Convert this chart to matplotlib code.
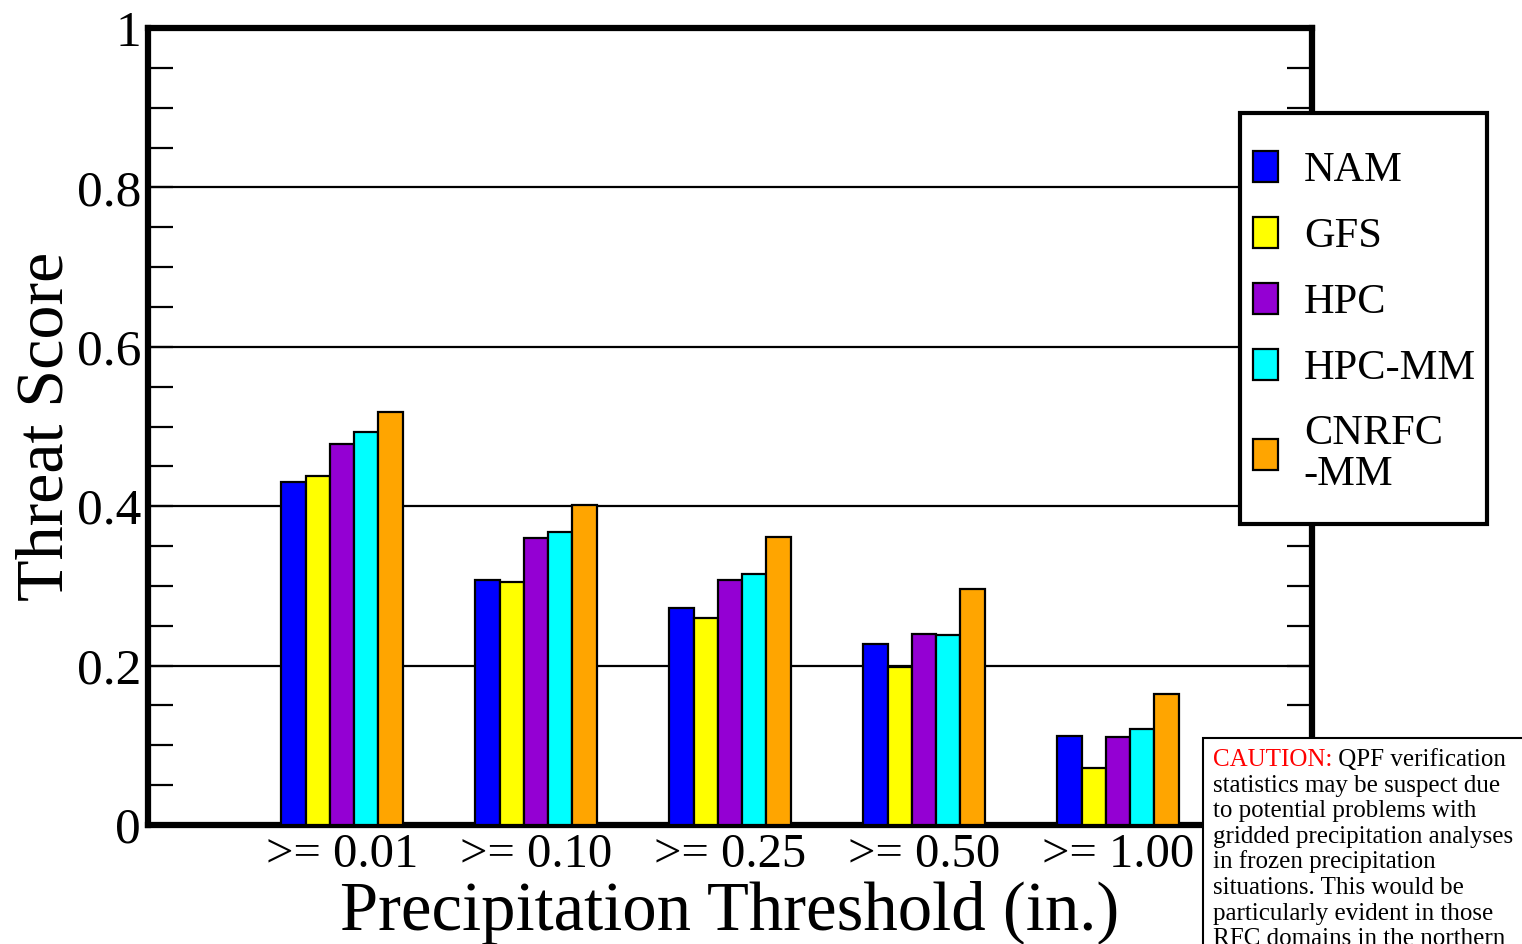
import matplotlib.pyplot as plt
import matplotlib.patches as mpatches
from matplotlib.text import Annotation
import numpy as np

plt.rcParams['font.family'] = ['Liberation Serif', 'DejaVu Serif']

thresholds = ['>= 0.01', '>= 0.10', '>= 0.25', '>= 0.50', '>= 1.00']
models = ['NAM', 'GFS', 'HPC', 'HPC-MM', 'CNRFC\n-MM']
colors = ['#0000ff', '#ffff00', '#9400d3', '#00ffff', '#ffa500']

nam = [0.430, 0.307, 0.272, 0.227, 0.112]
gfs = [0.438, 0.305, 0.260, 0.198, 0.072]
hpc = [0.478, 0.360, 0.307, 0.240, 0.110]
hpc_mm = [0.493, 0.368, 0.315, 0.238, 0.120]
cnrfc_mm = [0.518, 0.401, 0.361, 0.296, 0.164]

caution_lines = ['statistics may be suspect due',
                 'to potential problems with',
                 'gridded precipitation analyses',
                 'in frozen precipitation',
                 'situations. This would be',
                 'particularly evident in those',
                 'RFC domains in the northern']


def main():
    W, H = 1522, 944
    fig = plt.figure(figsize=(W/100, H/100), dpi=100)
    ax = fig.add_axes([148/W, 1-825/H, (1312-148)/W, (825-28)/H])

    series = [nam, gfs, hpc, hpc_mm, cnrfc_mm]
    x = np.arange(1, len(thresholds)+1)
    w = 0.125
    handles = []
    for i, vals in enumerate(series):
        b = ax.bar(x + (i-2)*w, vals, w, color=colors[i], edgecolor='black',
                   linewidth=1.6, label=models[i], zorder=3)
        handles.append(b)

    ax.set_xlim(0, 6)
    ax.set_ylim(0, 1)
    ax.set_yticks([0, 0.2, 0.4, 0.6, 0.8, 1])
    ax.set_yticklabels(['0', '0.2', '0.4', '0.6', '0.8', '1'])
    ax.set_yticks(np.arange(0, 1.0001, 0.05), minor=True)
    for yv in [0.2, 0.4, 0.6, 0.8]:
        ax.axhline(yv, color='black', lw=1.6, zorder=1)
    ax.tick_params(axis='y', which='both', direction='in', length=18, width=1.6,
                   left=True, right=True, labelsize=37, pad=5)
    ax.set_xticks(x)
    ax.set_xticklabels(thresholds)
    ax.tick_params(axis='x', length=0, labelsize=35, pad=6)
    for s in ax.spines.values():
        s.set_linewidth(4.5)

    ax.set_ylabel('Threat Score', fontsize=49, labelpad=0)
    ax.set_xlabel('Precipitation Threshold (in.)', fontsize=49.5, labelpad=3)

    # legend box drawn by hand, entries placed inside it
    fig.patches.append(mpatches.Rectangle((1240/W, 1-524/H), (1487-1240)/W, (524-113)/H,
                                          transform=fig.transFigure, facecolor='white',
                                          edgecolor='black', linewidth=3, zorder=4))
    leg = fig.legend(handles=handles, labels=models, loc='upper left',
                     bbox_to_anchor=(1253/W, 1-151/H), fontsize=30.5,
                     frameon=False, handlelength=0.6, handleheight=0.75,
                     handletextpad=0.6, labelspacing=0.63,
                     borderpad=0, borderaxespad=0)
    leg.set_zorder(5)
    for t in leg.get_texts():
        t.set_linespacing(1.07)

    # caution box
    fig.patches.append(mpatches.Rectangle((1203/W, -0.05), 0.3, 1-738/H+0.05,
                                          transform=fig.transFigure, facecolor='white',
                                          edgecolor='black', linewidth=1.5, zorder=5))
    fs = 18
    t0 = fig.text(1213/W, 1-766/H, 'CAUTION:', color='red', fontsize=fs,
                  va='baseline', ha='left', zorder=6)
    rest = Annotation(' QPF verification', xy=(1, 0), xycoords=t0, fontsize=fs,
                      va='bottom', ha='left', color='black', zorder=6)
    fig.add_artist(rest)
    for k, line in enumerate(caution_lines):
        fig.text(1213/W, 1-(766+25.6*(k+1))/H, line, fontsize=fs,
                 va='baseline', ha='left', zorder=6)

    fig.savefig('out.png', dpi=100)


if __name__ == '__main__':
    main()
